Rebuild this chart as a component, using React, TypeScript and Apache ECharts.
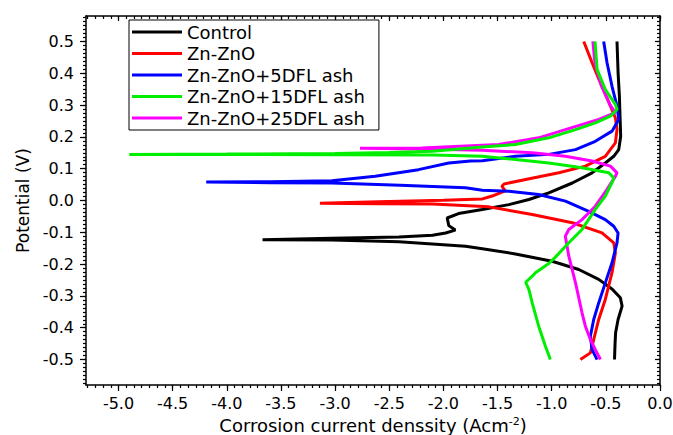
import React, { useEffect, useRef } from "react";
import * as echarts from "echarts";

// ---- Data (x: log corrosion current density, y: potential V) ----
const seriesNames = [
  "Control",
  "Zn-ZnO",
  "Zn-ZnO+5DFL ash",
  "Zn-ZnO+15DFL ash",
  "Zn-ZnO+25DFL ash",
];

const controlData: number[][] = [
  [-0.42, -0.5], [-0.415, -0.45], [-0.41, -0.416], [-0.387, -0.374], [-0.35, -0.332],
  [-0.366, -0.306], [-0.443, -0.278], [-0.566, -0.248], [-0.75, -0.217], [-0.996, -0.191],
  [-1.335, -0.168], [-1.64, -0.152], [-1.796, -0.144], [-2.41, -0.13], [-3.03, -0.124],
  [-3.67, -0.123],
  [-3.03, -0.119], [-2.41, -0.115], [-2.1, -0.109], [-1.98, -0.102], [-1.89, -0.093],
  [-1.95, -0.079], [-1.965, -0.055], [-1.86, -0.041], [-1.64, -0.028], [-1.396, -0.013],
  [-1.21, 0.003], [-1.027, 0.024], [-0.81, 0.055], [-0.627, 0.087], [-0.505, 0.118],
  [-0.427, 0.139], [-0.381, 0.16], [-0.363, 0.202], [-0.369, 0.265], [-0.375, 0.328],
  [-0.387, 0.402], [-0.397, 0.5],
];

const znZnoData: number[][] = [
  [-0.735, -0.5], [-0.643, -0.479], [-0.612, -0.437], [-0.566, -0.374], [-0.505, -0.311],
  [-0.443, -0.227], [-0.412, -0.165], [-0.427, -0.133], [-0.535, -0.102], [-0.81, -0.07],
  [-1.18, -0.044], [-1.58, -0.02], [-2.1, -0.011], [-2.6, -0.01], [-3.14, -0.009],
  [-2.6, -0.004], [-2.0, 0.001], [-1.64, 0.005], [-1.55, 0.014], [-1.43, 0.03],
  [-1.46, 0.045], [-1.44, 0.052], [-1.24, 0.066], [-0.934, 0.087], [-0.689, 0.108],
  [-0.505, 0.139], [-0.412, 0.181], [-0.397, 0.223], [-0.412, 0.26], [-0.458, 0.297],
  [-0.55, 0.37], [-0.627, 0.433], [-0.704, 0.5],
];

const dfl5Data: number[][] = [
  [-0.581, -0.5], [-0.627, -0.469], [-0.643, -0.427], [-0.612, -0.374], [-0.566, -0.322],
  [-0.505, -0.259], [-0.443, -0.196], [-0.397, -0.133], [-0.387, -0.102], [-0.427, -0.081],
  [-0.505, -0.06], [-0.658, -0.034], [-0.873, -0.002], [-1.12, 0.019], [-1.396, 0.029],
  [-1.64, 0.032], [-1.796, 0.04], [-2.4, 0.048], [-3.03, 0.055], [-3.6, 0.056], [-4.19, 0.058],
  [-3.6, 0.059], [-3.03, 0.062], [-2.63, 0.076], [-2.23, 0.097], [-1.95, 0.118],
  [-1.75, 0.124], [-1.64, 0.125], [-1.335, 0.139], [-1.027, 0.145], [-0.78, 0.16],
  [-0.597, 0.186], [-0.443, 0.218], [-0.381, 0.255], [-0.397, 0.297], [-0.443, 0.359],
  [-0.489, 0.433], [-0.52, 0.5],
];

const dfl15Data: number[][] = [
  [-1.012, -0.5], [-1.058, -0.458], [-1.12, -0.395], [-1.18, -0.322], [-1.21, -0.28],
  [-1.24, -0.257], [-1.18, -0.238], [-1.15, -0.227], [-1.027, -0.198], [-0.966, -0.178],
  [-0.842, -0.133], [-0.72, -0.091], [-0.597, -0.028], [-0.505, 0.014], [-0.443, 0.056],
  [-0.427, 0.071], [-0.473, 0.087], [-0.72, 0.103], [-1.027, 0.118], [-1.335, 0.129],
  [-1.64, 0.139], [-2.1, 0.143], [-3.0, 0.144], [-4.0, 0.145], [-4.9, 0.145],
  [-4.0, 0.146], [-3.0, 0.148], [-2.5, 0.151], [-2.1, 0.155], [-1.64, 0.168],
  [-1.335, 0.176], [-1.027, 0.197], [-0.78, 0.223], [-0.597, 0.244], [-0.458, 0.265],
  [-0.397, 0.286], [-0.412, 0.302], [-0.505, 0.349], [-0.581, 0.412], [-0.6, 0.5],
];

const dfl25Data: number[][] = [
  [-0.55, -0.5], [-0.597, -0.469], [-0.643, -0.437], [-0.689, -0.395], [-0.72, -0.353],
  [-0.78, -0.259], [-0.842, -0.175], [-0.874, -0.112], [-0.842, -0.091], [-0.72, -0.06],
  [-0.597, -0.018], [-0.489, 0.035], [-0.412, 0.076], [-0.397, 0.087], [-0.458, 0.108],
  [-0.627, 0.124], [-0.874, 0.139], [-1.18, 0.15], [-1.64, 0.158], [-2.2, 0.162],
  [-2.77, 0.164],
  [-2.2, 0.165], [-1.49, 0.176], [-1.12, 0.197], [-0.874, 0.223], [-0.566, 0.255],
  [-0.412, 0.276], [-0.46, 0.3], [-0.54, 0.36], [-0.6, 0.43], [-0.62, 0.5],
];

const seriesColors = ["#000000", "#ff0000", "#0000ff", "#00ee00", "#ff00ff"];

const xTickLabels = [-5.0, -4.5, -4.0, -3.5, -3.0, -2.5, -2.0, -1.5, -1.0, -0.5, 0.0];
const yTickLabels = [-0.5, -0.4, -0.3, -0.2, -0.1, 0.0, 0.1, 0.2, 0.3, 0.4, 0.5];

const X_MIN = -5.3;
const X_MAX = 0;
const Y_MIN = -0.58;
const Y_MAX = 0.58;

function minorValues(min: number, max: number, step: number): number[] {
  const out: number[] = [];
  const start = Math.ceil(min / step - 1e-9);
  for (let i = start; i * step <= max + 1e-9; i++) out.push(+(i * step).toFixed(5));
  return out;
}

const FONT = "DejaVu Sans";

export default function App() {
  const ref = useRef<HTMLDivElement>(null);

  useEffect(() => {
    if (!ref.current) return;
    const chart = echarts.init(ref.current, undefined, { renderer: "svg" });
    const xMinor = minorValues(X_MIN, X_MAX, 0.5 / 7);
    const yMinor = minorValues(Y_MIN, Y_MAX, 0.1 / 8);

    const frameLine = { show: true, onZero: false, lineStyle: { color: "#000", width: 1.5 } };
    const noLine = { show: false, onZero: false };
    const tickStyle = { color: "#000", width: 1.2 };

    const mkX = (pos: "top" | "bottom", values: number[], len: number, inside: boolean, line: boolean, main: boolean) => ({
      type: "value",
      min: X_MIN,
      max: X_MAX,
      position: pos,
      axisLine: line ? frameLine : noLine,
      axisTick: { show: true, inside, length: len, customValues: values, lineStyle: tickStyle },
      axisLabel: main
        ? {
            show: true,
            customValues: xTickLabels,
            formatter: (v: number) => v.toFixed(1),
            fontSize: 16,
            fontFamily: FONT,
            color: "#000",
            margin: 10,
          }
        : { show: false },
      splitLine: { show: false },
      ...(main
        ? {
            name: "Corrosion current denssity (Acm{sup|-2})",
            nameLocation: "middle",
            nameGap: 16,
            nameTextStyle: {
              fontSize: 18,
              lineHeight: 19,
              fontFamily: FONT,
              color: "#000",
              rich: {
                sup: { fontSize: 11, lineHeight: 19, fontFamily: FONT, color: "#000", verticalAlign: "top" },
              },
            },
          }
        : {}),
    });

    const mkY = (pos: "left" | "right", values: number[], len: number, inside: boolean, line: boolean, main: boolean) => ({
      type: "value",
      min: Y_MIN,
      max: Y_MAX,
      position: pos,
      axisLine: line ? frameLine : noLine,
      axisTick: { show: true, inside, length: len, customValues: values, lineStyle: tickStyle },
      axisLabel: main
        ? {
            show: true,
            customValues: yTickLabels,
            formatter: (v: number) => v.toFixed(1),
            fontSize: 16,
            fontFamily: FONT,
            color: "#000",
            margin: 12,
          }
        : { show: false },
      splitLine: { show: false },
      ...(main
        ? {
            name: "Potential (V)",
            nameLocation: "middle",
            nameGap: 54,
            nameTextStyle: { fontSize: 17, fontFamily: FONT, color: "#000" },
          }
        : {}),
    });

    const dataSets = [controlData, znZnoData, dfl5Data, dfl15Data, dfl25Data];
    const drawOrder = [0, 1, 2, 4, 3];

    chart.setOption({
      animation: false,
      backgroundColor: "#ffffff",
      grid: { left: 86, right: 13, top: 16, bottom: 50, containLabel: false, outerBoundsMode: "none" },
      legend: {
        orient: "vertical",
        left: 129,
        top: 20,
        data: seriesNames,
        icon: "rect",
        itemWidth: 50,
        itemHeight: 3,
        itemGap: 1.5,
        padding: [2, 14, 2, 3],
        borderColor: "#000",
        borderWidth: 1,
        backgroundColor: "#fff",
        selectedMode: false,
        textStyle: { fontSize: 18, fontFamily: FONT, color: "#000", lineHeight: 20 },
      },
      xAxis: [
        mkX("bottom", xTickLabels, 6, false, true, true),
        mkX("bottom", xMinor, 3, false, false, false),
        mkX("top", xTickLabels, 5, true, true, false),
        mkX("top", xMinor, 3, true, false, false),
      ],
      yAxis: [
        mkY("left", yTickLabels, 6, false, true, true),
        mkY("left", yMinor, 3, false, false, false),
        mkY("right", yTickLabels, 5, true, true, false),
        mkY("right", yMinor, 3, true, false, false),
      ],
      series: drawOrder.map((i) => ({
        name: seriesNames[i],
        type: "line",
        xAxisIndex: 0,
        yAxisIndex: 0,
        data: dataSets[i],
        symbol: "none",
        showSymbol: false,
        smooth: false,
        color: seriesColors[i],
        lineStyle: { color: seriesColors[i], width: 3 },
        emphasis: { disabled: true },
      })),
    });

    return () => chart.dispose();
  }, []);

  return (
    <div
      ref={ref}
      style={{ position: "fixed", left: 0, top: 0, width: 673, height: 435, background: "#fff" }}
    />
  );
}
